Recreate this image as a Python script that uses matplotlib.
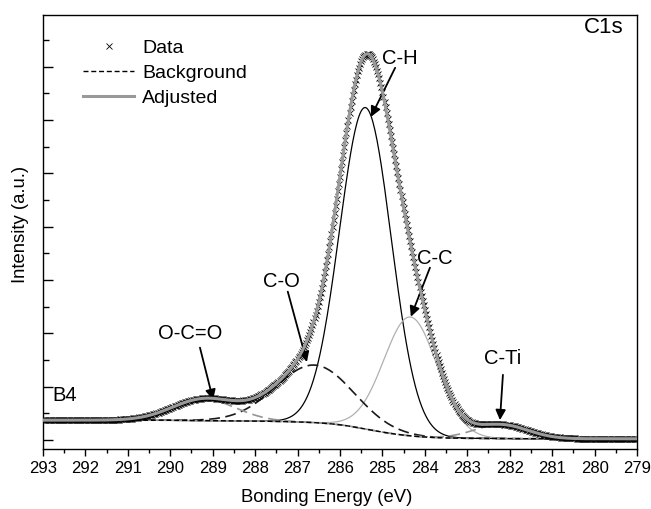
import numpy as np
import matplotlib as mpl
mpl.use('Agg')
import matplotlib.pyplot as plt
from matplotlib.ticker import MultipleLocator, NullFormatter

plt.rcParams['font.family'] = ['Liberation Sans', 'DejaVu Sans']

# fitted C1s components (binding energy in eV, intensity in a.u.)
peak_names = ['C-H', 'C-C', 'C-O', 'O-C=O', 'C-Ti']
peak_centers = [285.40, 284.34, 286.60, 289.20, 282.20]
peak_heights = [6.03, 2.23, 1.08, 0.40, 0.26]
peak_sigmas = [0.61, 0.63, 0.91, 0.75, 0.63]

# Shirley background levels on the high / low binding energy side
bg_high = 0.37
bg_low = 0.02

# measurement grid
e_start, e_stop, e_step = 279.0, 293.0, 0.025

# label text, where it sits, and where its arrow points
label_text = ['C-H', 'C-C', 'C-O', 'O-C=O', 'C-Ti']
label_xy = [(284.59, 7.16), (283.76, 3.41), (287.37, 2.98), (289.54, 1.99), (282.16, 1.52)]
arrow_from = [(284.70, 6.98), (283.88, 3.23), (287.23, 2.78), (289.30, 1.73), (282.16, 1.22)]
arrow_to = [(285.27, 6.06), (284.33, 2.31), (286.78, 1.46), (288.99, 0.75), (282.23, 0.37)]


def gauss(e, c, h, s):
    return h * np.exp(-(e - c) ** 2 / (2 * s ** 2))


energy = np.arange(e_start, e_stop + e_step / 2, e_step)
comps = [gauss(energy, c, h, s) for c, h, s in zip(peak_centers, peak_heights, peak_sigmas)]
total = np.sum(comps, axis=0)

# shirley: step follows the integrated peak area from the low BE side
cum = np.concatenate([[0], np.cumsum((total[1:] + total[:-1]) / 2 * e_step)])
background = bg_low + (bg_high - bg_low) * cum / cum[-1]
adjusted = background + total
data = adjusted

fig = plt.figure(figsize=(6.51, 5.09), dpi=100)
ax = fig.add_axes([0.066, 0.117, 0.9125, 0.8535])

comp_styles = {
    'C-H': dict(color='black', lw=0.9, ls='-'),
    'C-C': dict(color='#b0b0b0', lw=0.9, ls='-'),
    'C-O': dict(color='#1a1a1a', lw=1.2, ls=(0, (6.5, 3.3))),
    'O-C=O': dict(color='#959595', lw=1.2, ls=(0, (6.5, 3.3))),
    'C-Ti': dict(color='#959595', lw=1.2, ls=(0, (6.5, 3.3))),
}
for name, comp in zip(peak_names, comps):
    ax.plot(energy, background + comp, zorder=2, **comp_styles[name])

ax.plot(energy, background, color='black', lw=1.0, ls=(0, (3.6, 2.0)), zorder=3,
        label='Background')
ax.plot(energy, data, ls='', marker='x', ms=3.8, mew=0.6, color='black', zorder=4,
        label='Data')
ax.plot(energy, adjusted, color='#999999', lw=2.2, zorder=5, label='Adjusted')

# annotations
for txt, pos, a, b in zip(label_text, label_xy, arrow_from, arrow_to):
    ax.text(pos[0], pos[1], txt, ha='center', va='center', fontsize=14.5)
    ax.annotate('', xy=b, xytext=a,
                arrowprops=dict(arrowstyle='-|>', color='black', lw=1.3,
                                mutation_scale=15, shrinkA=0, shrinkB=0))
ax.text(279.33, 7.73, 'C1s', ha='right', va='center', fontsize=16)
ax.text(292.79, 0.83, 'B4', ha='left', va='center', fontsize=14.5)

# axes formatting
ax.set_xlim(293, 279)
ax.set_ylim(-0.18, 7.97)
ax.xaxis.set_major_locator(MultipleLocator(1))
ax.xaxis.set_minor_locator(MultipleLocator(0.5))
ax.yaxis.set_major_locator(MultipleLocator(1))
ax.yaxis.set_minor_locator(MultipleLocator(0.5))
ax.yaxis.set_major_formatter(NullFormatter())
ax.tick_params(axis='x', which='major', direction='out', length=5, width=1, labelsize=12)
ax.tick_params(axis='x', which='minor', direction='out', length=3, width=1)
ax.tick_params(axis='y', which='major', direction='in', length=7, width=1)
ax.tick_params(axis='y', which='minor', direction='in', length=4, width=1)
for sp in ax.spines.values():
    sp.set_linewidth(1.0)
ax.set_xlabel('Bonding Energy (eV)', fontsize=13.3)
ax.set_ylabel('Intensity (a.u.)', fontsize=13.3)
ax.xaxis.set_label_coords(0.478, -0.092)
ax.yaxis.set_label_coords(-0.0236, 0.517)

handles, labels = ax.get_legend_handles_labels()
order = [labels.index(l) for l in ['Data', 'Background', 'Adjusted']]
ax.legend([handles[i] for i in order], [labels[i] for i in order],
          loc='upper left', bbox_to_anchor=(0.068, 0.945), frameon=False,
          fontsize=14, handlelength=2.6, handletextpad=0.41, labelspacing=0.39,
          numpoints=1, borderaxespad=0, borderpad=0)

fig.savefig('out.png', dpi=100)
